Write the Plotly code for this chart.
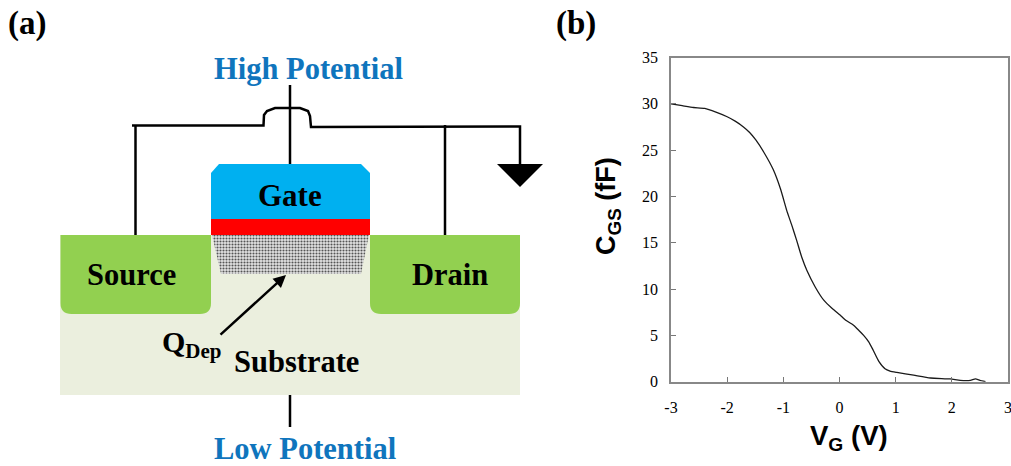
import plotly.graph_objects as go

W, H = 1011, 466

# --- panel (b) data ---
vg = [-3, -2.8, -2.6, -2.4, -2.2, -2.0, -1.85, -1.71, -1.6, -1.49, -1.35, -1.18, -1.05, -0.94, -0.85, -0.76,
      -0.67, -0.58, -0.43, -0.28, -0.13, 0.01, 0.12, 0.25, 0.35, 0.43, 0.52, 0.6, 0.7, 0.81, 0.9, 1.02,
      1.32, 1.62, 1.97, 2.15, 2.33, 2.42, 2.5, 2.6]
cgs = [30, 29.8, 29.6, 29.5, 29.1, 28.6, 28.1, 27.5, 26.9, 26.1, 24.8, 22.9, 20.8, 18.5, 16.9, 15.2,
       13.4, 12, 10.2, 8.8, 7.9, 7.2, 6.6, 6.1, 5.5, 5.0, 4.3, 3.4, 2.2, 1.4, 1.15, 1.0,
       0.7, 0.4, 0.3, 0.15, 0.15, 0.3, 0.15, 0]
x_ticks = [-3, -2, -1, 0, 1, 2, 3]
x_tick_labels = ["-3", "-2", "-1", "0", "1", "2", "3"]
y_ticks = [0, 5, 10, 15, 20, 25, 30, 35]

# --- panel (a) schematic geometry, in page pixels ---
substrate_box = (60, 235, 520, 395)
gate_x = [211, 219, 361, 370, 370, 211]
gate_y = [173, 164, 164, 173, 219, 219]
oxide_box = (211, 219, 370, 235)
dep_x = [212, 369, 361, 221]
dep_y = [235, 235, 274, 274]
wire_left_x = [135.5, 135.5]
wire_left_y = [125, 235]
wire_bus_x = [132, 263.5, 264, 267, 275, 300, 308, 310, 311, 520, 520]
wire_bus_y = [125.5, 125.5, 115, 111, 108, 108, 111, 116, 127, 126.5, 164]
wire_drain_x = [445, 445]
wire_drain_y = [125, 235]
wire_top_x = [290, 290]
wire_top_y = [85, 164]
wire_bot_x = [290, 290]
wire_bot_y = [395, 427]
ground_x = [497, 543, 520]
ground_y = [164, 164, 187]

SERIF = "Liberation Serif"
SANS = "Liberation Sans"
BLUE = "#0F75BD"

def poly(xs, ys):
    return "M " + " L ".join(f"{a},{b}" for a, b in zip(xs, ys)) + " Z"

def rshape(path, color):
    return dict(type="path", path=path, xref="x2", yref="y2", fillcolor=color,
                line=dict(width=0), layer="below")

def green_path(x0, x1, y0, y1, r):
    return (f"M {x0},{y0} L {x1},{y0} L {x1},{y1-r} Q {x1},{y1} {x1-r},{y1} "
            f"L {x0+r},{y1} Q {x0},{y1} {x0},{y1-r} Z")

fig = go.Figure()

fig.add_trace(go.Scatter(x=dep_x + dep_x[:1], y=dep_y + dep_y[:1], xaxis="x2", yaxis="y2",
                         mode="lines", fill="toself", line=dict(width=0), fillcolor="#ffffff",
                         fillpattern=dict(shape=".", size=3, solidity=0.4, fgcolor="#555555",
                                          bgcolor="#e4e4e4", fillmode="replace"),
                         hoverinfo="skip", showlegend=False))
for xs, ys, w in [(wire_left_x, wire_left_y, 2.5), (wire_bus_x, wire_bus_y, 2.5),
                  (wire_drain_x, wire_drain_y, 2.5), (wire_top_x, wire_top_y, 2.5),
                  (wire_bot_x, wire_bot_y, 2.5)]:
    fig.add_trace(go.Scatter(x=xs, y=ys, xaxis="x2", yaxis="y2", mode="lines",
                             line=dict(color="black", width=w), hoverinfo="skip", showlegend=False))
fig.add_trace(go.Scatter(x=ground_x + ground_x[:1], y=ground_y + ground_y[:1], xaxis="x2", yaxis="y2",
                         mode="lines", fill="toself", fillcolor="black", line=dict(width=0),
                         hoverinfo="skip", showlegend=False))

fig.add_trace(go.Scatter(x=vg, y=cgs, mode="lines", line=dict(color="#1a1a1a", width=1.3, shape="spline", smoothing=0.5),
                         showlegend=False))

sx0, sy0, sx1, sy1 = substrate_box
ox0, oy0, ox1, oy1 = oxide_box
shapes = [
    dict(type="rect", x0=sx0, y0=sy0, x1=sx1, y1=sy1, xref="x2", yref="y2",
         fillcolor="#EBEFDE", line=dict(width=0), layer="below"),
    rshape(green_path(60.5, 211, 235, 314, 11), "#92D050"),
    rshape(green_path(370, 520, 235, 314, 11), "#92D050"),
    rshape(poly(gate_x, gate_y), "#00B0F0"),
    dict(type="rect", x0=ox0, y0=oy0, x1=ox1, y1=oy1, xref="x2", yref="y2",
         fillcolor="#FF0000", line=dict(width=0), layer="below"),
]

def label(text, x, y, size, color="black", anchor="center", family=SERIF, angle=0):
    return dict(text=text, x=x, y=y, xref="x2", yref="y2", showarrow=False, xanchor=anchor,
                yanchor="middle", textangle=angle, font=dict(family=family, size=size, color=color))

annotations = [
    label("<b>(a)</b>", 27, 23, 33),
    label("<b>(b)</b>", 576, 23, 33),
    label("<b>High Potential</b>", 308.5, 69, 30.5, BLUE),
    label("<b>Low Potential</b>", 305, 448.5, 30.5, BLUE),
    label("<b>Gate</b>", 290, 195.5, 31),
    label("<b>Source</b>", 131, 275, 30.5),
    label("<b>Drain</b>", 450, 275, 30.5),
    label("<b>Substrate</b>", 296, 362, 30.5),
    label("<b>Q<sub>Dep</sub></b>", 160, 344, 30, anchor="left"),
    label("<b>V<sub>G</sub> (V)</b>", 849, 437, 27.5, family=SANS),
    label("<b>C<sub>GS</sub> (fF)</b>", 608, 206, 27, family=SANS, angle=-90),
    dict(x=286, y=275, ax=219, ay=336, xref="x2", yref="y2", axref="x2", ayref="y2", text="",
         showarrow=True, arrowhead=2, arrowsize=1, arrowwidth=2.5, arrowcolor="black"),
]

fig.update_layout(
    width=W, height=H, margin=dict(l=0, r=0, t=0, b=0), autosize=False,
    paper_bgcolor="white", plot_bgcolor="rgba(0,0,0,0)",
    shapes=shapes, annotations=annotations, showlegend=False,
    xaxis=dict(domain=[671 / W, 1008 / W], range=[-3, 3], tickvals=x_ticks, ticktext=x_tick_labels,
               ticks="inside", ticklen=5, automargin=False, ticklabelstandoff=10,
               ticklabeloverflow="allow",
               tickcolor="#777777", tickfont=dict(family=SERIF, size=16, color="black"),
               showgrid=False, zeroline=False, showline=True, linecolor="#888888", linewidth=1.5,
               mirror=True),
    yaxis=dict(domain=[(H - 381.7) / H, (H - 57.5) / H], range=[0, 35], tickvals=y_ticks, ticks="inside",
               ticklen=5, automargin=False, ticklabelstandoff=8,
               tickfont=dict(family=SERIF, size=16, color="black"), tickcolor="#777777",
               showgrid=False, zeroline=False, showline=True, linecolor="#888888", linewidth=1.5,
               mirror=True),
    xaxis2=dict(domain=[0, 1], range=[0, W], visible=False, anchor="y2"),
    yaxis2=dict(domain=[0, 1], range=[H, 0], visible=False, anchor="x2"),
)

fig.write_html("out.html", config=dict(displayModeBar=False),
               post_script="document.body.style.margin='0';document.body.style.overflow='hidden';")
